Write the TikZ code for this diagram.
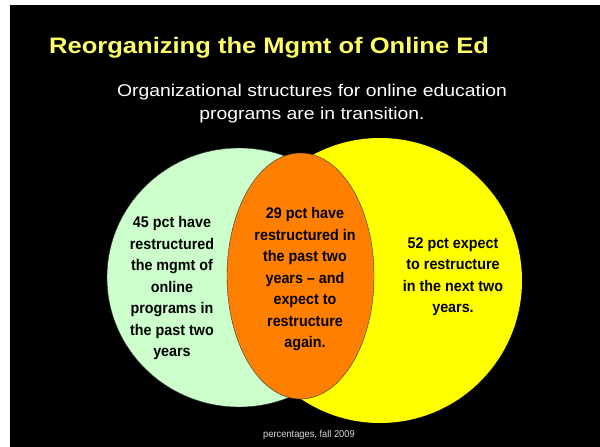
\documentclass[tikz,border=0pt]{standalone}
\usepackage{fontspec}
\setmainfont{Liberation Sans}
\newfontfamily\widefont[FakeStretch=1.14]{Liberation Sans}
\newfontfamily\narrowfont[FakeStretch=0.93]{Liberation Sans}
\usepackage{xcolor}
\usepackage{tikz}
\usetikzlibrary{positioning, shapes.geometric}

\definecolor{titleyellow}{HTML}{FFFF66}
\definecolor{setyellow}{HTML}{FFFF00}
\definecolor{setgreen}{HTML}{CCFFCC}
\definecolor{setorange}{HTML}{FF8000}
\definecolor{footgray}{HTML}{D9D9D9}

\begin{document}
\begin{tikzpicture}[
        x=1pt, y=-1pt,
        vset/.style={ellipse, inner sep=0pt, outer sep=0pt},
        settext/.style={align=center, text=black, inner sep=0pt, font=\narrowfont\bfseries\fontsize{15.4}{21.5}\selectfont}
    ]
        % page and slide background
        \useasboundingbox (0,0) rectangle (600,447);
        \fill[white] (0,0) rectangle (600,447);
        \fill[black] (10,5) rectangle (600,447);

        % heading
        \node[anchor=base west, inner sep=0pt, text=titleyellow, font=\widefont\bfseries\fontsize{22.4}{26}\selectfont] (title) at (49,53) {Reorganizing the Mgmt of Online Ed};
        \node[align=center, inner sep=0pt, text=white, font=\widefont\fontsize{17}{23}\selectfont] (sub) at (312,104) {Organizational structures for online education\\programs are in transition.};

        % the three sets
        \node[vset, fill=setyellow, minimum width=284pt, minimum height=285pt] (next) at (380,280.5) {};
        \node[vset, fill=setgreen, draw=black!80, line width=0.4pt, minimum width=264pt, minimum height=259pt] (past) at (239,277.5) {};
        \node[vset, fill=setorange, draw=black!80, line width=0.4pt, minimum width=147pt, minimum height=246pt] (both) at (300.5,276) {};

        % texts in the sets
        \node[settext] (pasttxt) at (172,288.5) {45 pct have\\restructured\\the mgmt of\\online\\programs in\\the past two\\years};
        \node[settext] (bothtxt) at (305,279.5) {29 pct have\\restructured in\\the past two\\years – and\\expect to\\restructure\\again.};
        \node[settext] (nexttxt) at (453,276.5) {52 pct expect\\to restructure\\in the next two\\years.};

        % source line
        \node[anchor=base, inner sep=0pt, text=footgray, font=\narrowfont\fontsize{10}{12}\selectfont] (foot) at (309,437) {percentages, fall 2009};
    \end{tikzpicture}
\end{document}
